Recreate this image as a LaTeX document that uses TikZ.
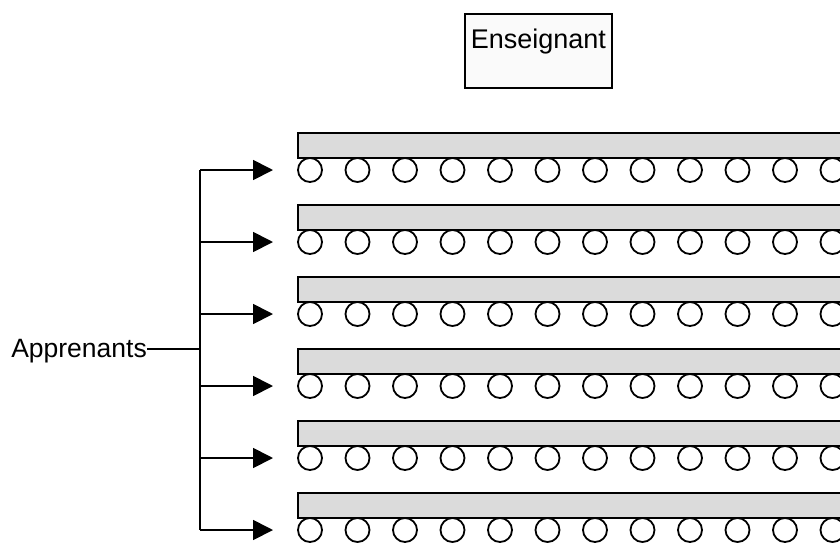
\documentclass[tikz,border=0pt]{standalone}
\usepackage{fontspec}
\setmainfont{Liberation Sans}
\usetikzlibrary{arrows.meta}
\tikzset{
  lw/.style={line width=1.8pt},
  barbox/.style={lw, draw=black, fill=black!14, anchor=north west, minimum width=570pt, minimum height=25pt, inner sep=0pt, outer sep=0pt},
  seat/.style={lw, draw=black, fill=white, circle, minimum size=24pt, inner sep=0pt},
  feed/.style={lw, -{Triangle[length=20pt,width=20pt]}},
  label/.style={font=\fontsize{26.5}{30}\selectfont, inner sep=0pt},
  teacher/.style={lw, draw=black, fill=black!2, anchor=north west, minimum width=147pt, inner xsep=0pt, inner ysep=0pt, text height=35pt, text depth=39pt, font=\fontsize{27}{30}\selectfont}
}
\begin{document}
\begin{tikzpicture}[x=1pt,y=-1pt]
\useasboundingbox (0,0) rectangle (840,542);
\clip (0,0) rectangle (840,542);
\node[teacher] (ens) at (464,13) {Enseignant};
\node[label, anchor=base east] (app) at (147,357) {Apprenants};
\foreach \i in {1,...,6}{
  \pgfmathsetmacro{\cy}{170+72*(\i-1)}
  \node[barbox] (bar\i) at (298,\cy-37) {};
  \foreach \j in {0,...,11}{
    \node[seat] (s\i-\j) at (310+47.5*\j,\cy) {};
  }
  \coordinate (v\i) at (200,\cy);
  \coordinate (t\i) at (273,\cy);
  \draw[feed] (v\i) -- (t\i);
}
\draw[lw] (v1) -- (v6);
\draw[lw] (app.east |- 0,349) -- (v1 |- 0,349);
\end{tikzpicture}
\end{document}
